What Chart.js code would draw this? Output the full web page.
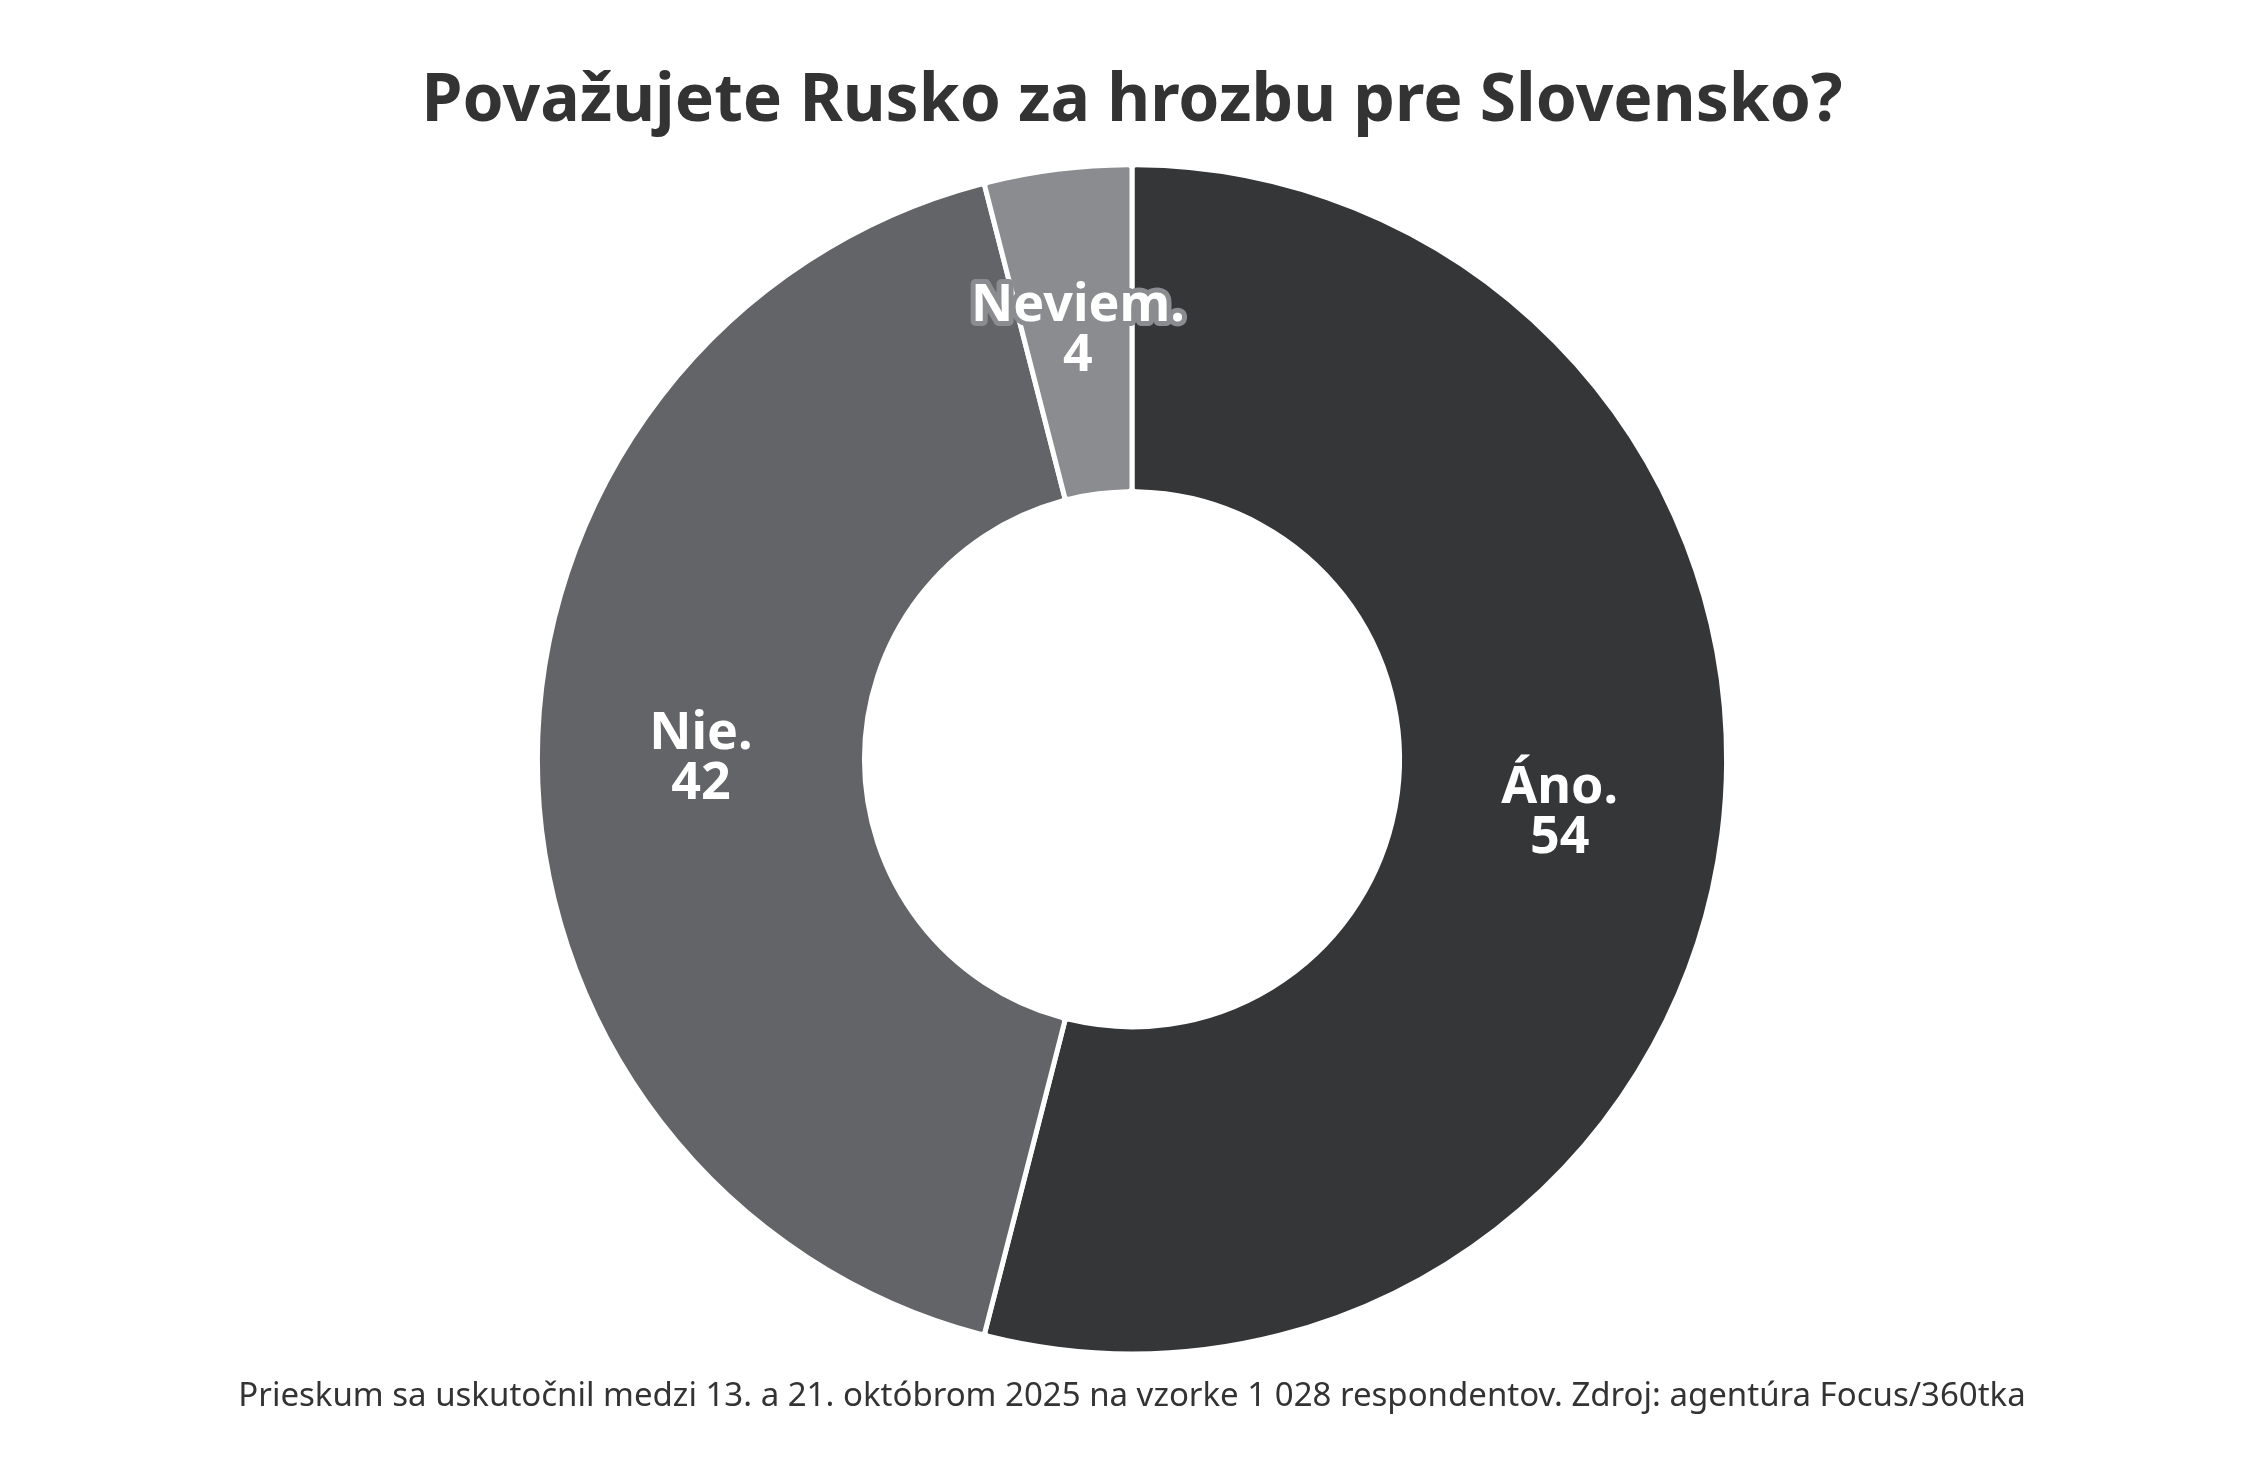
<!DOCTYPE html>
<html>
<head>
<meta charset="utf-8">
<script src="https://cdn.jsdelivr.net/npm/chart.js@4"></script>
<style>
  html, body { margin: 0; padding: 0; background: #fff; }
  #wrap { width: 2264px; height: 1476px; }
</style>
</head>
<body>
<div id="wrap"><canvas id="myChart"></canvas></div>
<script>
// data
const labels = ['Áno.', 'Nie.', 'Neviem.'];
const values = [54, 42, 4];
const colors = ['#353638', '#636467', '#8a8c8f'];

const titleText = 'Považujete Rusko za hrozbu pre Slovensko?';
const footText = 'Prieskum sa uskutočnil medzi 13. a 21. októbrom 2025 na vzorke 1 028 respondentov. Zdroj: agentúra Focus/360tka';

// writes "label / value" in the middle of each slice
const sliceLabels = {
    id: 'sliceLabels',
    afterDatasetsDraw(chart) {
        const ctx = chart.ctx;
        const meta = chart.getDatasetMeta(0);
        ctx.save();
        ctx.font = 'bold 52px "Noto Sans"';
        ctx.textAlign = 'center';
        ctx.textBaseline = 'middle';
        meta.data.forEach((arc, i) => {
            const p = arc.tooltipPosition();
            const lines = [labels[i], String(values[i])];
            lines.forEach((t, k) => {
                const y = p.y + (k - 0.5) * 50;
                if (i == 2) {
                    ctx.lineWidth = 10;
                    ctx.lineJoin = 'round';
                    ctx.strokeStyle = '#8a8c8f';
                    ctx.strokeText(t, p.x, y);
                }
                ctx.fillStyle = '#ffffff';
                ctx.fillText(t, p.x, y);
            });
        });
        ctx.restore();
    }
};

new Chart('myChart', {
    type: 'doughnut',
    data: {
        labels: labels,
        datasets: [{
            data: values,
            backgroundColor: colors,
            borderColor: '#ffffff',
            borderWidth: 5,
            borderRadius: 4
        }]
    },
    options: {
        responsive: true,
        maintainAspectRatio: false,
        animation: false,
        cutout: '45%',
        layout: { padding: { top: 23, bottom: 42 } },
        plugins: {
            legend: { display: false },
            tooltip: { enabled: false },
            title: {
                display: true,
                text: titleText,
                color: '#333333',
                font: { family: 'Noto Sans', size: 66, weight: 'bold' },
                padding: { top: 40, bottom: 20 }
            },
            subtitle: {
                display: true,
                position: 'bottom',
                text: footText,
                color: '#333333',
                font: { family: 'Noto Sans', size: 33 },
                padding: { top: 20, bottom: 18 }
            }
        }
    },
    plugins: [sliceLabels]
});
</script>
</body>
</html>
